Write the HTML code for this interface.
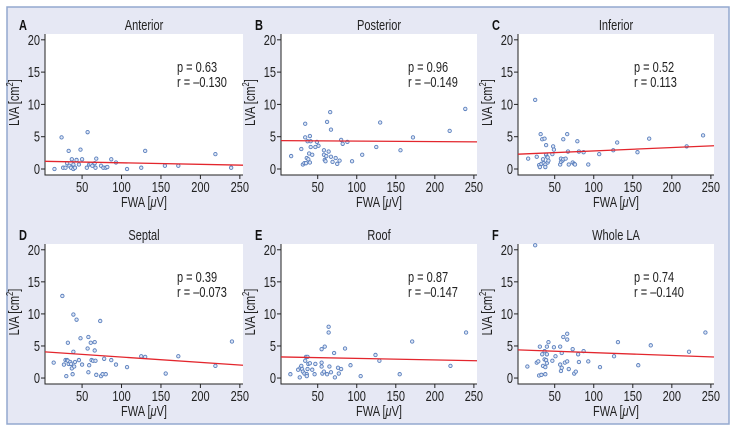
<!DOCTYPE html>
<html><head><meta charset="utf-8"><style>
body{margin:0;background:#fff;width:736px;height:431px;overflow:hidden}
svg{display:block;font-family:"Liberation Sans Narrow","Liberation Sans",sans-serif}
</style></head><body>
<svg id="fig" width="736" height="431">
<rect x="7" y="7" width="722" height="417" fill="#e6e8f4" stroke="#93a8cf" stroke-width="1.5"/>
</svg>
<script>
const xTicks=[50,100,150,200,250];
const yTicks=[0,5,10,15,20];
const titles=["Anterior","Posterior","Inferior","Septal","Roof","Whole LA"];
const letters=["A","B","C","D","E","F"];
const pVals=["0.63","0.96","0.52","0.39","0.87","0.74"];
const rVals=["\u20130.130","\u20130.149","0.113","\u20130.073","\u20130.147","\u20130.140"];
const fitIntercept=[1.2,4.4,2.28,4.1,3.3,4.4];
const fitSlope=[-0.0024,-0.0008,0.0052,-0.0083,-0.0024,-0.0044];
const xA=[15,24,26,29,31,33,34,36,37,39,39,41,43,46,48,50,56,57,59,61,63,66,67,68,74,77,80,82,87,93,107,125,130,155,172,219,239];
const yA=[0,4.9,0.2,0.2,0.9,2.8,0.5,0.2,1.5,0.7,0,0.2,1.4,0.7,3.0,1.5,0.2,5.7,0.7,0.8,0.5,0.9,0.2,1.6,0.5,0.2,0.2,0.3,1.5,1.0,0,0.2,2.8,0.5,0.5,2.3,0.2];
const xB=[16,29,31,33,34,34,35,36,37,38,39,40,40,41,41,43,47,49,51,58,58,59,60,61,62,64,66,67,67,69,73,75,78,80,82,88,94,107,125,130,156,172,219,239];
const yB=[2.0,3.1,0.7,0.9,7.0,4.9,0.9,1.7,4.3,1.5,2.4,1.0,5.1,4.3,3.4,2.2,3.4,4.2,3.6,2.9,2.2,1.4,1.2,2.0,7.3,2.7,8.8,6.1,1.9,1.1,1.7,0.8,1.3,4.5,3.9,4.2,1.2,2.2,3.4,7.2,2.9,4.9,5.9,9.3];
const xC=[16,25,27,30,31,32,33,34,35,36,37,38,38,39,39,40,41,41,42,47,48,49,57,58,58,60,61,61,64,66,67,68,73,75,76,79,81,87,93,107,125,130,156,171,219,240];
const yC=[1.6,10.7,1.9,0.6,0.3,5.4,0.8,4.6,1.5,0.9,4.7,0.7,0.3,2.2,3.7,1.9,1.0,1.8,1.3,2.3,3.5,3.0,0.7,1.6,1.1,1.3,4.6,1.5,1.6,5.4,2.7,0.7,1.0,0.8,0.7,4.3,2.7,2.6,0.7,2.3,2.9,4.1,2.6,4.7,3.5,5.2];
const xD=[14,25,27,29,30,31,32,32,33,35,36,37,38,39,39,40,41,43,46,48,50,57,58,58,59,61,62,64,66,66,67,68,73,74,76,78,80,87,93,107,125,130,156,172,219,240];
const yD=[2.4,12.8,2.1,2.8,0.3,2.8,5.5,2.7,2.2,2.5,2.2,1.5,0.6,9.9,4.1,1.8,2.5,9.1,2.8,6.2,2.1,4.6,6.4,0.9,2.0,5.5,2.8,2.7,4.3,5.6,2.7,0.5,8.9,0.3,0.6,3.0,0.6,2.8,2.1,1.7,3.4,3.3,0.7,3.4,1.9,5.7];
const xE=[15,25,27,28,29,30,31,33,34,35,36,36,37,37,38,40,43,46,47,55,55,55,56,58,59,62,64,64,65,67,71,72,76,77,80,85,92,105,124,129,155,171,220,240];
const yE=[0.6,1.3,0.1,1.6,1.9,1.4,1.0,0.7,2.7,3.3,0.6,0.3,3.3,1.4,2.2,2.3,1.3,0.6,2.2,4.5,2.4,1.8,0.7,1.0,4.9,0.6,8.0,7.1,1.8,0.9,3.9,0.1,1.6,0.7,1.4,4.6,2.0,0.3,3.6,2.7,0.6,5.7,1.9,7.1];
const xF=[15,25,27,29,30,31,33,34,35,37,37,38,38,39,40,40,40,42,47,49,51,57,57,58,59,59,61,66,66,63,66,68,73,75,77,80,81,87,93,108,126,131,157,173,222,243];
const yF=[1.8,20.7,2.4,2.6,0.4,4.9,0.5,3.7,1.9,2.9,4.2,1.7,0.6,2.8,4.9,3.7,2.3,5.6,2.7,4.8,3.4,4.9,2.1,1.1,3.9,1.6,6.4,6.9,6.0,2.4,2.6,1.4,4.5,0.7,1.0,3.7,2.5,4.2,2.6,1.7,3.4,5.6,2.0,5.1,4.1,7.1];
const seriesX=[xA,xB,xC,xD,xE,xF];
const seriesY=[yA,yB,yC,yD,yE,yF];

const NS="http://www.w3.org/2000/svg";
const svg=document.getElementById('fig');
const cols=[{l:45,r:243,st:132},{l:281,r:477,st:127},{l:518,r:714,st:116}];
const rows=[{t:34,b:175},{t:244,b:384}];
const X0=3,X1=254,Y0=-0.93,Y1=20.9;
const SX=0.76, FS=14.5;
function mk(tag,at,parent){const e=document.createElementNS(NS,tag);for(const k in at)e.setAttribute(k,at[k]);(parent||svg).appendChild(e);return e;}
function txt(parent,x,y,at,rot){
  const w=mk('g',{transform:`translate(${x} ${y})`+(rot?` rotate(${rot})`:'')+` scale(${SX} 1)`},parent);
  return mk('text',Object.assign({x:0,y:0,fill:'#222','font-size':FS},at),w);
}
for(let i=0;i<6;i++){
  const c=cols[i%3],rw=rows[Math.floor(i/3)];
  const sx=v=>c.l+(v-X0)/(X1-X0)*(c.r-c.l);
  const sy=v=>rw.b-(v-Y0)/(Y1-Y0)*(rw.b-rw.t);
  const g=mk('g',{});
  
  
  const bg=mk('rect',{x:c.l,y:rw.t,width:c.r-c.l,height:rw.b-rw.t,fill:'#fff'},g);
  
  
  const ax=mk('path',{d:`M${c.l} ${rw.t}V${rw.b}H${c.r}`,stroke:'#222',fill:'none','stroke-width':1},g);
  
  
  xTicks.forEach(t=>{const x=sx(t);mk('line',{x1:x,x2:x,y1:rw.b,y2:rw.b+4,stroke:'#222'},g);
    const tx=txt(g,x,rw.b+17,{'text-anchor':'middle'});tx.textContent=t;
    
    });
  yTicks.forEach(t=>{const y=sy(t);mk('line',{x1:c.l-4,x2:c.l,y1:y,y2:y,stroke:'#222'},g);
    const tx=txt(g,c.l-5,y+5,{'text-anchor':'end'});tx.textContent=t;
    
    });
  const xt=txt(g,(c.l+c.r)/2,rw.b+32,{'text-anchor':'middle'});
  xt.innerHTML='FWA [<tspan font-style="italic">\u03bc</tspan>V]';
  
  
  const yt=txt(g,c.l-26,(rw.t+rw.b)/2-2,{'text-anchor':'middle'},-90);
  yt.innerHTML='LVA [cm<tspan font-size="10" dy="-6">2</tspan><tspan dy="6">]</tspan>';
  
  
  const ti=txt(g,(c.l+c.r)/2,rw.t-4,{'text-anchor':'middle'});ti.textContent=titles[i];
  
  
  const le=txt(g,c.l-26,rw.t-4,{'font-weight':'bold',fill:'#111'});le.textContent=letters[i];
  
  
  const p=txt(g,c.l+c.st,rw.t+38,{});p.textContent='p = '+pVals[i];
  
  
  const r=txt(g,c.l+c.st,rw.t+53,{});r.textContent='r = '+rVals[i];
  
  
  const xs=seriesX[i],ys=seriesY[i];
  for(let k=0;k<xs.length;k++){
    const pt=mk('circle',{cx:sx(xs[k]),cy:sy(ys[k]),r:1.7,fill:'#dfe7f6',stroke:'#5a7fbd','stroke-width':0.9},g);
    
    
  }
  const fl=mk('line',{x1:sx(X0),y1:sy(fitIntercept[i]+fitSlope[i]*X0),x2:sx(X1),y2:sy(fitIntercept[i]+fitSlope[i]*X1),stroke:'#e3262d','stroke-width':1.3},g);
  
  
}
</script>
</body></html>
